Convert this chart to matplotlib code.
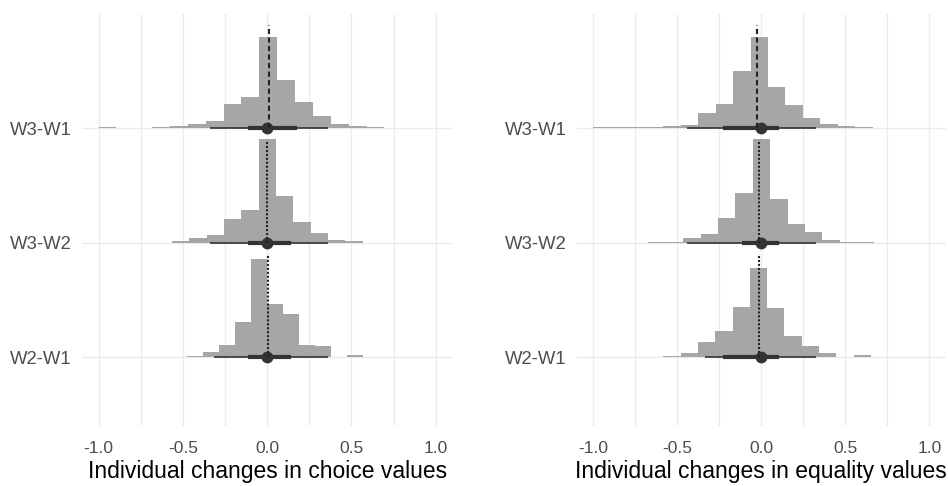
import numpy as np
import matplotlib
matplotlib.use("Agg")
import matplotlib.pyplot as plt
from matplotlib.ticker import MultipleLocator

plt.rcParams['font.family'] = ['Liberation Sans', 'DejaVu Sans']

rows = ["W2-W1", "W3-W2", "W3-W1"]  # bottom to top

# ---- choice values (left) ----
choice_bin_start = {"W3-W1": -1.0, "W3-W2": -0.565, "W2-W1": -0.476}
choice_bin_width = {"W3-W1": 0.106, "W3-W2": 0.103, "W2-W1": 0.0948}
choice_heights = {
    "W3-W1": [1.7, 0, 0, 1.0, 2.3, 4.0, 7.7, 24.7, 31.0, 91.7, 48.3, 26.3, 12.3, 4.0, 2.7, 1.3],
    "W3-W2": [1.7, 5.0, 8.3, 24.3, 33.3, 103.3, 46.7, 21.0, 9.7, 3.3, 2.0],
    "W2-W1": [1.3, 5.3, 12.7, 35.3, 98.3, 53.7, 43.3, 12.7, 11.3, 0.7, 2.7],
}
choice_point = {"W3-W1": 0.0, "W3-W2": 0.0, "W2-W1": 0.0}
choice_thick = {"W3-W1": (-0.115, 0.176), "W3-W2": (-0.115, 0.139), "W2-W1": (-0.115, 0.139)}
choice_thin = {"W3-W1": (-0.337, 0.361), "W3-W2": (-0.337, 0.361), "W2-W1": (-0.313, 0.361)}
choice_ref = {"W3-W1": 0.014, "W3-W2": 0.0, "W2-W1": 0.008}

# ---- equality values (right) ----
equal_bin_start = {"W3-W1": -1.0, "W3-W2": -0.672, "W2-W1": -0.583}
equal_bin_width = {"W3-W1": 0.104, "W3-W2": 0.1035, "W2-W1": 0.103}
equal_heights = {
    "W3-W1": [1.2, 1.2, 1.2, 1.2, 2.0, 3.7, 15.7, 24.3, 57.7, 91.3, 41.7, 23.0, 10.0, 4.7, 2.3, 1.3],
    "W3-W2": [1.2, 1.2, 4.7, 9.3, 25.3, 50.0, 103.3, 44.0, 19.3, 10.7, 3.3, 1.2, 1.2],
    "W2-W1": [1.0, 4.0, 15.0, 26.7, 50.7, 89.3, 49.7, 21.0, 11.0, 4.0, 0, 2.3],
}
equal_point = {"W3-W1": 0.0, "W3-W2": 0.0, "W2-W1": 0.0}
equal_thick = {"W3-W1": (-0.226, 0.105), "W3-W2": (-0.113, 0.105), "W2-W1": (-0.226, 0.105)}
equal_thin = {"W3-W1": (-0.444, 0.326), "W3-W2": (-0.444, 0.326), "W2-W1": (-0.335, 0.326)}
equal_ref = {"W3-W1": -0.027, "W3-W2": -0.012, "W2-W1": -0.012}

ref_style = {"W3-W1": (0, (2.5, 1.6)), "W3-W2": (0, (1, 0.9)), "W2-W1": (0, (1, 0.9))}

slab_scale = 114.3  # heights above are per 1 row unit
slab_color = "#a6a6a6"
ink = "#333333"


def draw_panel(ax, bin_start, bin_width, heights, point, thick, thin, ref, xlabel):
    for i, r in enumerate(rows):
        h = np.array(heights[r]) / slab_scale
        lefts = bin_start[r] + bin_width[r] * np.arange(len(h))
        ax.bar(lefts, h, width=bin_width[r], bottom=i, align='edge',
               color=slab_color, linewidth=0, zorder=2)
        ax.plot(thin[r], [i, i], color=ink, lw=1.2, solid_capstyle='butt', zorder=3)
        ax.plot(thick[r], [i, i], color=ink, lw=3.0, solid_capstyle='butt', zorder=3)
        ax.plot([point[r]], [i], 'o', color=ink, ms=7.5, zorder=4)
        ax.plot([ref[r], ref[r]], [i, i + 0.9], color="#222222", lw=1.5,
                linestyle=ref_style[r], zorder=5)
    ax.set_xlim(-1.1, 1.1)
    ax.set_ylim(-0.6, 3.0)
    ax.set_yticks(range(len(rows)))
    ax.set_yticklabels(rows)
    ax.set_xticks([-1.0, -0.5, 0.0, 0.5, 1.0])
    ax.set_xticklabels(["-1.0", "-0.5", "0.0", "0.5", "1.0"])
    ax.xaxis.set_minor_locator(MultipleLocator(0.25))
    ax.grid(True, which='major', color='#ebebeb', lw=1.0, zorder=0)
    ax.grid(True, which='minor', axis='x', color='#ebebeb', lw=1.0, zorder=0)
    ax.set_axisbelow(True)
    ax.tick_params(length=0, which='both', labelsize=12.5, labelcolor='#4d4d4d')
    ax.tick_params(axis='y', labelsize=13.3, pad=7)
    ax.tick_params(axis='x', pad=11)
    for s in ax.spines.values():
        s.set_visible(False)
    ax.set_xlabel(xlabel, fontsize=16.5, color='black', labelpad=3)


fig = plt.figure(figsize=(9.48, 4.86), dpi=100)
ax1 = fig.add_axes([81.7 / 948, 60 / 486, 370.8 / 948, 412 / 486])
ax2 = fig.add_axes([576.5 / 948, 60 / 486, 369.6 / 948, 412 / 486])

draw_panel(ax1, choice_bin_start, choice_bin_width, choice_heights, choice_point,
           choice_thick, choice_thin, choice_ref, "Individual changes in choice values")
draw_panel(ax2, equal_bin_start, equal_bin_width, equal_heights, equal_point,
           equal_thick, equal_thin, equal_ref, "Individual changes in equality values")

fig.savefig("out.png", dpi=100)
